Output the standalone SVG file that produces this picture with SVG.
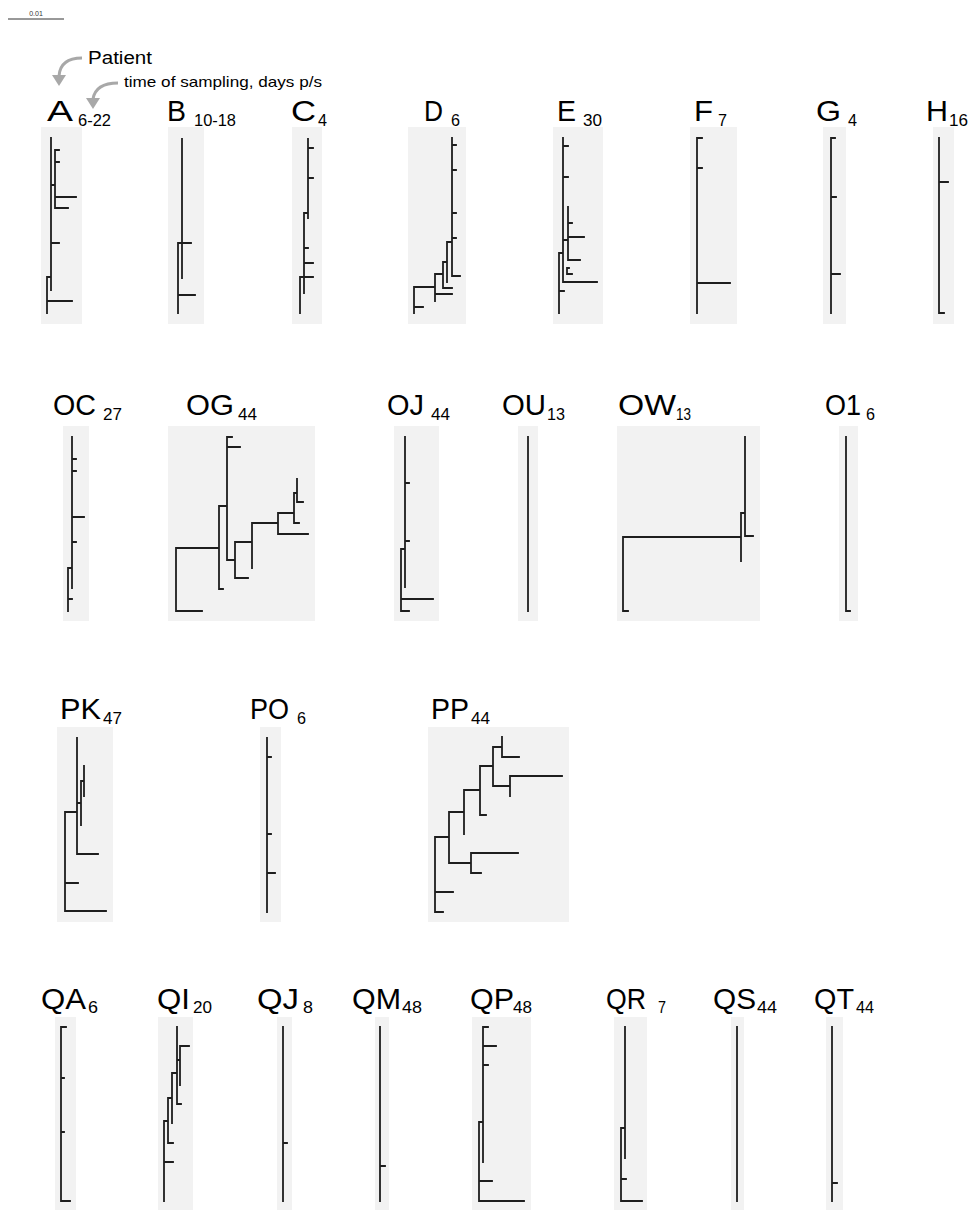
<svg xmlns="http://www.w3.org/2000/svg" width="971" height="1210" viewBox="0 0 971 1210">
<defs>
<style>
.bg{fill:#ffffff}
.panel{fill:#f2f2f2}
.tree{fill:none;stroke:#1e1e1e;stroke-width:1.8;stroke-linecap:square}
.big{font-family:"Liberation Sans",Arial,sans-serif;font-size:29px;fill:#000}
.sub{font-family:"Liberation Sans",Arial,sans-serif;font-size:16.5px;fill:#000}
.note{font-family:"Liberation Sans",Arial,sans-serif;fill:#000}
.arr{fill:none;stroke:#a8a8a8;stroke-width:3}
.arrh{fill:#a8a8a8}
</style>
</defs>
<rect class="bg" x="0" y="0" width="971" height="1210"/>

<g id="scalebar">
<line x1="8" y1="19" x2="64" y2="19" stroke="#333" stroke-width="1"/>
<text x="36" y="16" font-family="Liberation Sans, Arial, sans-serif" font-size="7" fill="#333" text-anchor="middle">0.01</text>
</g>

<g id="legend">
<text class="note" x="88" y="64" font-size="17.5" textLength="64" lengthAdjust="spacingAndGlyphs">Patient</text>
<text class="note" x="124" y="87" font-size="15" textLength="198" lengthAdjust="spacingAndGlyphs">time of sampling, days p/s</text>
</g>

<g id="connectors">
<path class="arr" d="M82,58 C70,58 60,62 59,76"/>
<polygon class="arrh" points="52,75 66,75 59,86"/>
<path class="arr" d="M118,83 C105,83 95,87 93,99"/>
<polygon class="arrh" points="86,98 100,98 93,109"/>
</g>

<!-- Row 1 -->
<g id="tree-A">
<rect class="panel" x="41" y="127" width="41" height="197"/>
<text class="big" x="47" y="121" textLength="26" lengthAdjust="spacingAndGlyphs">A</text>
<text class="sub" x="78" y="126" textLength="33" lengthAdjust="spacingAndGlyphs">6-22</text>
<path class="tree" d="M47,277 V313 M47,277 H51 M47,301 H72 M51,138 V290 M51,185 H55 M55,150 V208 M55,150 H59 M55,162 H59 M55,197 H76 M55,208 H68 M51,243 H59"/>
</g>
<g id="tree-B">
<rect class="panel" x="168" y="127" width="36" height="197"/>
<text class="big" x="167" y="121" textLength="19" lengthAdjust="spacingAndGlyphs">B</text>
<text class="sub" x="194" y="126" textLength="42" lengthAdjust="spacingAndGlyphs">10-18</text>
<path class="tree" d="M182,139 V278 M178,243 V313 M178,243 H191 M178,295 H195"/>
</g>
<g id="tree-C">
<rect class="panel" x="292" y="127" width="30" height="197"/>
<text class="big" x="291" y="121" textLength="25" lengthAdjust="spacingAndGlyphs">C</text>
<text class="sub" x="318" y="126" textLength="9" lengthAdjust="spacingAndGlyphs">4</text>
<path class="tree" d="M308,139 V218 M308,148 H313 M308,178 H313 M304,213 H308 M304,213 V293 M304,248 H308 M304,263 H313 M300,277 H313 M300,277 V313"/>
</g>
<g id="tree-D">
<rect class="panel" x="408" y="127" width="58" height="197"/>
<text class="big" x="424" y="121" textLength="19" lengthAdjust="spacingAndGlyphs">D</text>
<text class="sub" x="451" y="126" textLength="9" lengthAdjust="spacingAndGlyphs">6</text>
<path class="tree" d="M452,138 V276 H460 M452,145 H456 M452,170 H456 M452,213 H456 M452,238 H456 M447,242 H452 M447,242 V282 M443,262 H447 M443,262 V288 H452 M435,274 H443 M435,274 V301 M435,294 H452 M414,287 H435 M414,287 V313 M414,307 H423"/>
</g>
<g id="tree-E">
<rect class="panel" x="553" y="127" width="50" height="197"/>
<text class="big" x="557" y="121" textLength="19" lengthAdjust="spacingAndGlyphs">E</text>
<text class="sub" x="583" y="126" textLength="19" lengthAdjust="spacingAndGlyphs">30</text>
<path class="tree" d="M563,138 V282 H597 M563,146 H568 M563,177 H568 M563,240 H568 M568,207 V260 H580 M568,223 H572 M568,237 H584 M567,268 V274 H572 M567,268 H569 M559,253 H563 M559,253 V313 M559,291 H564"/>
</g>
<g id="tree-F">
<rect class="panel" x="690" y="127" width="47" height="197"/>
<text class="big" x="694" y="121" textLength="19" lengthAdjust="spacingAndGlyphs">F</text>
<text class="sub" x="718" y="126" textLength="9" lengthAdjust="spacingAndGlyphs">7</text>
<path class="tree" d="M702,138 H697 V313 M697,168 H702 M697,283 H730"/>
</g>
<g id="tree-G">
<rect class="panel" x="823" y="127" width="23" height="197"/>
<text class="big" x="816" y="121" textLength="25" lengthAdjust="spacingAndGlyphs">G</text>
<text class="sub" x="848" y="126" textLength="9" lengthAdjust="spacingAndGlyphs">4</text>
<path class="tree" d="M835,138 H831 V313 M831,197 H836 M831,274 H840"/>
</g>
<g id="tree-H">
<rect class="panel" x="933" y="127" width="21" height="197"/>
<text class="big" x="926" y="121" textLength="22" lengthAdjust="spacingAndGlyphs">H</text>
<text class="sub" x="949" y="126" textLength="19" lengthAdjust="spacingAndGlyphs">16</text>
<path class="tree" d="M939,138 V313 H944 M939,182 H948"/>
</g>

<!-- Row 2 -->
<g id="tree-OC">
<rect class="panel" x="63" y="426" width="26" height="195"/>
<text class="big" x="53" y="415" textLength="43" lengthAdjust="spacingAndGlyphs">OC</text>
<text class="sub" x="103" y="420" textLength="19" lengthAdjust="spacingAndGlyphs">27</text>
<path class="tree" d="M72,437 V588 M72,459 H76 M72,471 H76 M72,517 H84 M72,542 H76 M68,568 H72 M68,568 V611 M68,599 H72"/>
</g>
<g id="tree-OG">
<rect class="panel" x="168" y="426" width="147" height="195"/>
<text class="big" x="186" y="415" textLength="48" lengthAdjust="spacingAndGlyphs">OG</text>
<text class="sub" x="238" y="420" textLength="19" lengthAdjust="spacingAndGlyphs">44</text>
<path class="tree" d="M227,437 V560 H235 M227,437 H232 M227,447 H240 M219,506 H227 M219,506 V589 H223 M235,542 V578 H248 M235,542 H252 M252,523 V568 M252,523 H278 M278,513 V534 H308 M278,513 H294 M294,493 V523 H299 M294,493 H297 M297,479 V502 H303 M176,548 H219 M176,548 V611 H202"/>
</g>
<g id="tree-OJ">
<rect class="panel" x="394" y="426" width="45" height="195"/>
<text class="big" x="387" y="415" textLength="37" lengthAdjust="spacingAndGlyphs">OJ</text>
<text class="sub" x="431" y="420" textLength="19" lengthAdjust="spacingAndGlyphs">44</text>
<path class="tree" d="M405,437 V587 M405,483 H409 M405,541 H409 M401,549 H405 M401,549 V611 H409 M401,599 H433"/>
</g>
<g id="tree-OU">
<rect class="panel" x="518" y="426" width="20" height="195"/>
<text class="big" x="502" y="415" textLength="44" lengthAdjust="spacingAndGlyphs">OU</text>
<text class="sub" x="547" y="420" textLength="18" lengthAdjust="spacingAndGlyphs">13</text>
<path class="tree" d="M528,437 V611"/>
</g>
<g id="tree-OW">
<rect class="panel" x="617" y="426" width="143" height="195"/>
<text class="big" x="618" y="415" textLength="58" lengthAdjust="spacingAndGlyphs">OW</text>
<text class="sub" x="676" y="420" textLength="15" lengthAdjust="spacingAndGlyphs">13</text>
<path class="tree" d="M745,437 V536 H753 M741,513 H745 M741,513 V561 M623,537 H741 M623,537 V611 H628"/>
</g>
<g id="tree-O1">
<rect class="panel" x="839" y="426" width="19" height="195"/>
<text class="big" x="825" y="415" textLength="36" lengthAdjust="spacingAndGlyphs">O1</text>
<text class="sub" x="866" y="420" textLength="9" lengthAdjust="spacingAndGlyphs">6</text>
<path class="tree" d="M846,437 V611 H850"/>
</g>

<!-- Row 3 -->
<g id="tree-PK">
<rect class="panel" x="57" y="727" width="56" height="195"/>
<text class="big" x="60" y="719" textLength="41" lengthAdjust="spacingAndGlyphs">PK</text>
<text class="sub" x="103" y="724" textLength="19" lengthAdjust="spacingAndGlyphs">47</text>
<path class="tree" d="M77,738 V854 H98 M77,803 H81 M81,781 V825 M81,781 H84 M84,766 V796 M65,812 H77 M65,812 V911 H106 M65,883 H78"/>
</g>
<g id="tree-PO">
<rect class="panel" x="260" y="727" width="21" height="195"/>
<text class="big" x="250" y="719" textLength="39" lengthAdjust="spacingAndGlyphs">PO</text>
<text class="sub" x="297" y="724" textLength="9" lengthAdjust="spacingAndGlyphs">6</text>
<path class="tree" d="M267,738 V912 M267,757 H271 M267,834 H271 M267,873 H275"/>
</g>
<g id="tree-PP">
<rect class="panel" x="428" y="727" width="141" height="195"/>
<text class="big" x="431" y="719" textLength="38" lengthAdjust="spacingAndGlyphs">PP</text>
<text class="sub" x="471" y="724" textLength="19" lengthAdjust="spacingAndGlyphs">44</text>
<path class="tree" d="M435,837 V912 H443 M435,892 H453 M435,837 H449 M449,812 V863 H471 M449,812 H464 M471,853 V873 H481 M471,853 H518 M464,790 V834 M464,790 H480 M480,766 V815 H486 M480,766 H493 M493,747 V786 H510 M493,747 H502 M510,776 V796 M510,776 H562 M502,737 V757 H519"/>
</g>

<!-- Row 4 -->
<g id="tree-QA">
<rect class="panel" x="55" y="1017" width="21" height="193"/>
<text class="big" x="41" y="1009" textLength="45" lengthAdjust="spacingAndGlyphs">QA</text>
<text class="sub" x="88" y="1013" textLength="10" lengthAdjust="spacingAndGlyphs">6</text>
<path class="tree" d="M66,1027 H61 V1201 H70 M61,1078 H64 M61,1132 H64"/>
</g>
<g id="tree-QI">
<rect class="panel" x="158" y="1017" width="35" height="193"/>
<text class="big" x="157" y="1009" textLength="33" lengthAdjust="spacingAndGlyphs">QI</text>
<text class="sub" x="193" y="1013" textLength="19" lengthAdjust="spacingAndGlyphs">20</text>
<path class="tree" d="M177,1027 V1104 H181 M177,1060 H180 M180,1046 V1085 M180,1046 H189 M172,1073 H177 M172,1073 V1123 M168,1098 H172 M168,1098 V1143 H173 M164,1121 H168 M164,1121 V1201 M164,1162 H173"/>
</g>
<g id="tree-QJ">
<rect class="panel" x="277" y="1017" width="15" height="193"/>
<text class="big" x="257" y="1009" textLength="42" lengthAdjust="spacingAndGlyphs">QJ</text>
<text class="sub" x="303" y="1013" textLength="10" lengthAdjust="spacingAndGlyphs">8</text>
<path class="tree" d="M283,1027 V1201 M283,1143 H287"/>
</g>
<g id="tree-QM">
<rect class="panel" x="375" y="1017" width="14" height="193"/>
<text class="big" x="352" y="1009" textLength="49" lengthAdjust="spacingAndGlyphs">QM</text>
<text class="sub" x="402" y="1013" textLength="20" lengthAdjust="spacingAndGlyphs">48</text>
<path class="tree" d="M380,1027 V1201 M380,1166 H385"/>
</g>
<g id="tree-QP">
<rect class="panel" x="472" y="1017" width="59" height="193"/>
<text class="big" x="470" y="1009" textLength="44" lengthAdjust="spacingAndGlyphs">QP</text>
<text class="sub" x="513" y="1013" textLength="19" lengthAdjust="spacingAndGlyphs">48</text>
<path class="tree" d="M488,1027 H483 V1162 M483,1046 H496 M483,1065 H488 M479,1122 H483 M479,1122 V1201 H524 M479,1181 H492"/>
</g>
<g id="tree-QR">
<rect class="panel" x="614" y="1017" width="33" height="193"/>
<text class="big" x="606" y="1009" textLength="40" lengthAdjust="spacingAndGlyphs">QR</text>
<text class="sub" x="658" y="1013" textLength="8" lengthAdjust="spacingAndGlyphs">7</text>
<path class="tree" d="M625,1027 V1158 M621,1128 H625 M621,1128 V1201 H642 M621,1179 H626"/>
</g>
<g id="tree-QS">
<rect class="panel" x="731" y="1017" width="13" height="193"/>
<text class="big" x="713" y="1009" textLength="43" lengthAdjust="spacingAndGlyphs">QS</text>
<text class="sub" x="757" y="1013" textLength="20" lengthAdjust="spacingAndGlyphs">44</text>
<path class="tree" d="M737,1027 V1201"/>
</g>
<g id="tree-QT">
<rect class="panel" x="826" y="1017" width="17" height="193"/>
<text class="big" x="814" y="1009" textLength="40" lengthAdjust="spacingAndGlyphs">QT</text>
<text class="sub" x="856" y="1013" textLength="18" lengthAdjust="spacingAndGlyphs">44</text>
<path class="tree" d="M832,1027 V1201 M832,1183 H837"/>
</g>
</svg>
